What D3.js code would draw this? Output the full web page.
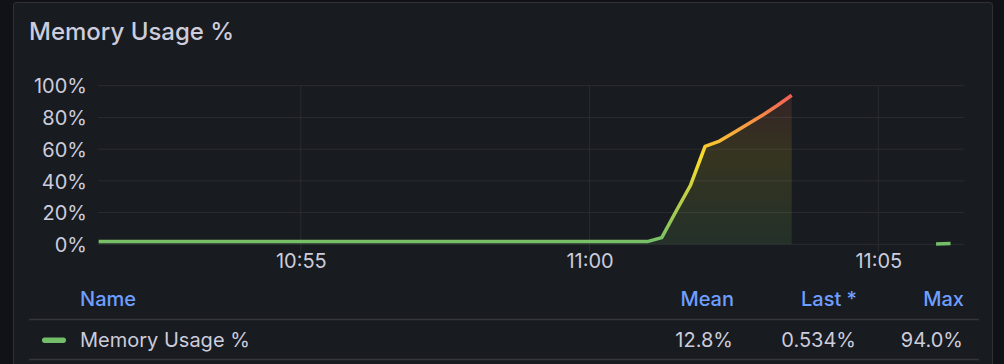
<!DOCTYPE html>
<html>
<head>
<meta charset="utf-8">
<script src="https://cdn.jsdelivr.net/npm/d3@7"></script>
<style>
  html, body { margin: 0; padding: 0; background: #111217; }
  svg { display: block; font-family: Inter, "Noto Sans", sans-serif; }
</style>
</head>
<body>
<script>
// series: memory usage %, two runs with a gap in between
var seg1Times = ["10:51:30", "11:01:00", "11:01:15", "11:01:30", "11:01:45", "11:02:00",
                 "11:02:15", "11:02:30", "11:02:45", "11:03:00", "11:03:15", "11:03:30"];
var seg1Values = [1.7, 1.7, 4.2, 21.0, 37.4, 61.8, 65.1, 70.5, 76.0, 81.5, 87.5, 94.0];
var seg2Times = ["11:06:00", "11:06:15"];
var seg2Values = [0.2, 0.534];

var yTicks = [0, 20, 40, 60, 80, 100];
var xTicks = ["10:55", "11:00", "11:05"];
var legendCols = ["Mean", "Last *", "Max"];
var legendVals = ["12.8%", "0.534%", "94.0%"];

var W = 1004, H = 364;
var parse = d3.timeParse("%H:%M:%S");
var parseHM = d3.timeParse("%H:%M");

var svg = d3.select("body").append("svg")
    .attr("width", W)
    .attr("height", H);

// panel
svg.append("rect")
    .attr("x", 13.5).attr("y", 2.5)
    .attr("width", 979).attr("height", 400)
    .attr("rx", 3)
    .attr("fill", "#181b1f")
    .attr("stroke", "#2f3136");

svg.append("text")
    .attr("x", 29).attr("y", 40)
    .attr("fill", "#ccccdc")
    .attr("font-size", 24)
    .attr("font-weight", 500)
    .text("Memory Usage %");

var x = d3.scaleTime()
    .domain([parse("10:51:29"), parse("11:06:29")])
    .range([97.7, 964]);
var y = d3.scaleLinear()
    .domain([0, 100])
    .range([244.3, 85.7]);

// grid
svg.append("g").selectAll("line")
    .data(yTicks)
    .enter().append("line")
    .attr("x1", 97.7).attr("x2", 964)
    .attr("y1", function(d) { return y(d); })
    .attr("y2", function(d) { return y(d); })
    .attr("stroke", "#2a2c31")
    .attr("stroke-width", 1);

svg.append("g").selectAll("line")
    .data(xTicks)
    .enter().append("line")
    .attr("x1", function(d) { return x(parseHM(d)); })
    .attr("x2", function(d) { return x(parseHM(d)); })
    .attr("y1", 85).attr("y2", 251)
    .attr("stroke", "#2a2c31");

// axes labels
var yAxis = d3.axisLeft(y).tickValues(yTicks)
    .tickFormat(function(d) { return d + "%"; })
    .tickSize(0).tickPadding(0);
var yg = svg.append("g")
    .attr("transform", "translate(87,0)")
    .call(yAxis);
yg.select(".domain").remove();
yg.selectAll("text")
    .attr("fill", "#ccccdc")
    .attr("font-size", 20)
    .attr("font-family", "Inter, sans-serif")
    .attr("dy", "0.36em");

var xAxis = d3.axisBottom(x)
    .tickValues(xTicks.map(function(d) { return parseHM(d); }))
    .tickFormat(d3.timeFormat("%H:%M"))
    .tickSize(0).tickPadding(0);
var xg = svg.append("g")
    .attr("transform", "translate(0,264)")
    .call(xAxis);
xg.select(".domain").remove();
xg.selectAll("text")
    .attr("fill", "#ccccdc")
    .attr("font-size", 20)
    .attr("font-family", "Inter, sans-serif")
    .attr("dy", "0.2em");

// gradients by value
var defs = svg.append("defs");
var stops = [[0, "#73BF69"], [0.55, "#FADE2A"], [1, "#F2495C"]];
var lg = defs.append("linearGradient")
    .attr("id", "lineGrad")
    .attr("gradientUnits", "userSpaceOnUse")
    .attr("x1", 0).attr("x2", 0)
    .attr("y1", y(0)).attr("y2", y(100));
stops.forEach(function(s) {
    lg.append("stop").attr("offset", s[0]).attr("stop-color", s[1]);
});
var fg = defs.append("linearGradient")
    .attr("id", "fillGrad")
    .attr("gradientUnits", "userSpaceOnUse")
    .attr("x1", 0).attr("x2", 0)
    .attr("y1", y(0)).attr("y2", y(100));
stops.forEach(function(s) {
    fg.append("stop").attr("offset", s[0]).attr("stop-color", s[1]).attr("stop-opacity", 0.13);
});

var segs = [
    seg1Times.map(function(t, i) { return { t: parse(t), v: seg1Values[i] }; }),
    seg2Times.map(function(t, i) { return { t: parse(t), v: seg2Values[i] }; })
];

var area = d3.area()
    .x(function(d) { return x(d.t); })
    .y0(y(0))
    .y1(function(d) { return y(d.v); });
var line = d3.line()
    .x(function(d) { return x(d.t); })
    .y(function(d) { return y(d.v); });

svg.append("g").selectAll("path")
    .data(segs)
    .enter().append("path")
    .attr("d", area)
    .attr("fill", "url(#fillGrad)");

svg.append("g").selectAll("path")
    .data(segs)
    .enter().append("path")
    .attr("d", line)
    .attr("fill", "none")
    .attr("stroke", "url(#lineGrad)")
    .attr("stroke-width", 3.5)
    .attr("stroke-linejoin", "round");

// legend table
var colRight = [734, 857, 964];
svg.append("text")
    .attr("x", 80).attr("y", 306)
    .attr("fill", "#6e9fff")
    .attr("font-size", 20)
    .attr("font-weight", 500)
    .text("Name");
svg.selectAll(".lhead")
    .data(legendCols)
    .enter().append("text")
    .attr("class", "lhead")
    .attr("x", function(d, i) { return colRight[i]; })
    .attr("y", 306)
    .attr("text-anchor", "end")
    .attr("fill", "#6e9fff")
    .attr("font-size", 20)
    .attr("font-weight", 500)
    .text(function(d) { return d; });

svg.selectAll(".sep")
    .data([319.5, 359.5])
    .enter().append("line")
    .attr("x1", 29).attr("x2", 979)
    .attr("y1", function(d) { return d; })
    .attr("y2", function(d) { return d; })
    .attr("stroke", "#34363b")
    .attr("stroke-width", 1.5);

svg.append("rect")
    .attr("x", 42).attr("y", 337.5)
    .attr("width", 24).attr("height", 5.5)
    .attr("rx", 2.7)
    .attr("fill", "#73BF69");
svg.append("text")
    .attr("x", 80).attr("y", 347)
    .attr("fill", "#ccccdc")
    .attr("font-size", 20)
    .text("Memory Usage %");
svg.selectAll(".lval")
    .data(legendVals)
    .enter().append("text")
    .attr("class", "lval")
    .attr("x", function(d, i) { return colRight[i] - 1; })
    .attr("y", 347)
    .attr("text-anchor", "end")
    .attr("fill", "#ccccdc")
    .attr("font-size", 20)
    .text(function(d) { return d; });
</script>
</body>
</html>
